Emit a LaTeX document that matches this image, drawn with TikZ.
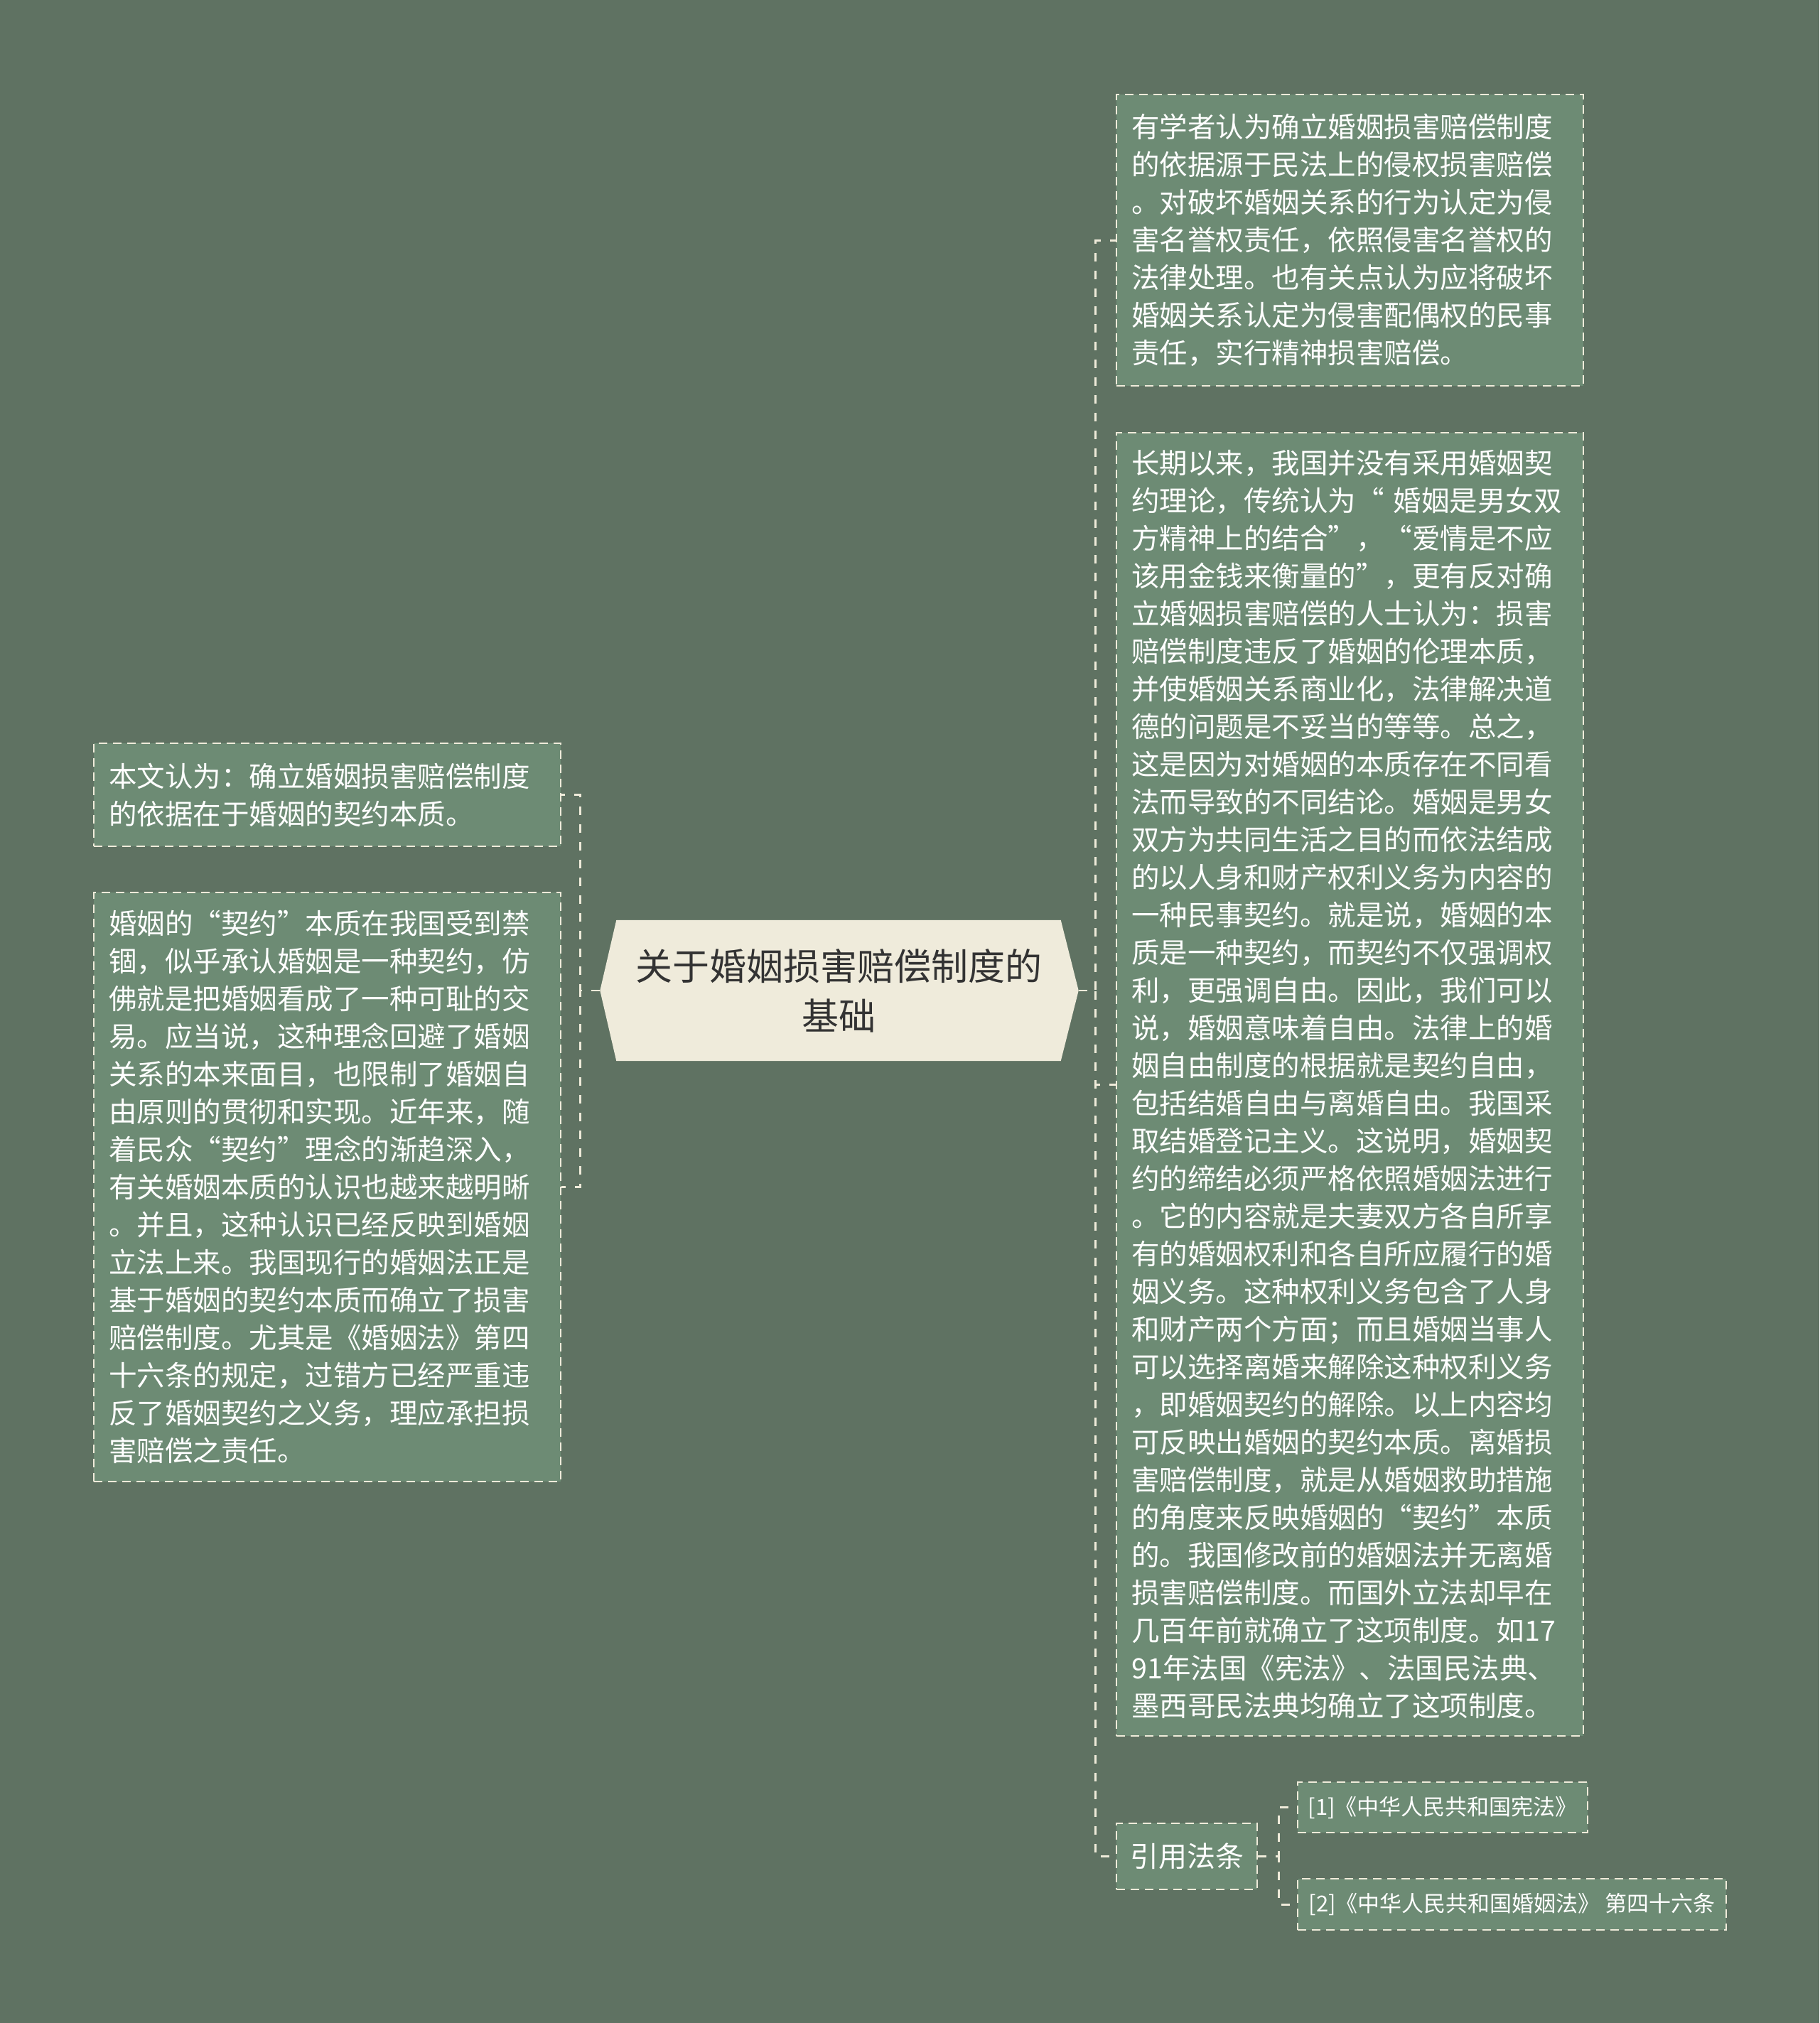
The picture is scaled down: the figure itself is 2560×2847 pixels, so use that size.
\documentclass[tikz,border=0pt]{standalone}
\usepackage{fontspec}
\setmainfont{Noto Sans CJK SC}
\usetikzlibrary{calc}
\definecolor{bgc}{HTML}{5F7262}
\definecolor{boxc}{HTML}{6D8B74}
\definecolor{linec}{HTML}{EFEBDA}
\definecolor{ctrc}{HTML}{EFEBDB}
\definecolor{ctrtext}{HTML}{333333}
\pgfdeclarelayer{back}
\pgfdeclarelayer{mid}
\pgfsetlayers{back,mid,main}
\begin{document}
\begin{tikzpicture}[x=1pt,y=-1pt,
  txtbox/.style={draw=linec, fill=boxc, line width=2.4pt, dash pattern=on 12pt off 8pt,
    text=white, anchor=north west, inner xsep=21pt, inner ysep=0pt, align=left,
    text width=615pt, font=\fontsize{39.5}{53}\selectfont},
  smallbox/.style={draw=linec, fill=boxc, line width=2.4pt, dash pattern=on 12pt off 8pt,
    text=white, anchor=north west, inner sep=0pt},
  ctr/.style={text=ctrtext, align=center, inner sep=0pt, minimum width=625pt,
    minimum height=198pt, font=\fontsize{52}{70}\selectfont},
  conn/.style={draw=linec, line width=2.6pt, dash pattern=on 12pt off 13pt}]
\useasboundingbox (0,0) rectangle (2560,2847);
\begin{pgfonlayer}{back}
\fill[bgc] (0,0) rectangle (2560,2847);
\end{pgfonlayer}

% center
\node[ctr] (c) at (1180,1394) {关于婚姻损害赔偿制度的\\基础};
\coordinate (cE) at ($(c.east)+(25,0)$);
\coordinate (cW) at ($(c.west)+(-23,0)$);
\begin{pgfonlayer}{mid}
\fill[ctrc] (c.north west) -- (c.north east) -- (cE) -- (c.south east)
  -- (c.south west) -- (cW) -- cycle;
\end{pgfonlayer}

% right boxes
\node[txtbox, minimum height=410pt] (r1) at (1570,132) {有学者认为确立婚姻损害赔偿制度\\
的依据源于民法上的侵权损害赔偿\\
。对破坏婚姻关系的行为认定为侵\\
害名誉权责任，依照侵害名誉权的\\
法律处理。也有关点认为应将破坏\\
婚姻关系认定为侵害配偶权的民事\\
责任，实行精神损害赔偿。};

\node[txtbox, minimum height=1834pt] (r2) at (1570,608) {长期以来，我国并没有采用婚姻契\\
约理论，传统认为“ 婚姻是男女双\\
方精神上的结合”，“爱情是不应\\
该用金钱来衡量的”，更有反对确\\
立婚姻损害赔偿的人士认为：损害\\
赔偿制度违反了婚姻的伦理本质，\\
并使婚姻关系商业化，法律解决道\\
德的问题是不妥当的等等。总之，\\
这是因为对婚姻的本质存在不同看\\
法而导致的不同结论。婚姻是男女\\
双方为共同生活之目的而依法结成\\
的以人身和财产权利义务为内容的\\
一种民事契约。就是说，婚姻的本\\
质是一种契约，而契约不仅强调权\\
利，更强调自由。因此，我们可以\\
说，婚姻意味着自由。法律上的婚\\
姻自由制度的根据就是契约自由，\\
包括结婚自由与离婚自由。我国采\\
取结婚登记主义。这说明，婚姻契\\
约的缔结必须严格依照婚姻法进行\\
。它的内容就是夫妻双方各自所享\\
有的婚姻权利和各自所应履行的婚\\
姻义务。这种权利义务包含了人身\\
和财产两个方面；而且婚姻当事人\\
可以选择离婚来解除这种权利义务\\
，即婚姻契约的解除。以上内容均\\
可反映出婚姻的契约本质。离婚损\\
害赔偿制度，就是从婚姻救助措施\\
的角度来反映婚姻的“契约”本质\\
的。我国修改前的婚姻法并无离婚\\
损害赔偿制度。而国外立法却早在\\
几百年前就确立了这项制度。如17\\
91年法国《宪法》、法国民法典、\\
墨西哥民法典均确立了这项制度。};

\node[smallbox, minimum width=198pt, minimum height=93pt,
  font=\fontsize{40}{50}\selectfont] (ref) at (1570,2565) {引用法条};
\node[smallbox, minimum width=408pt, minimum height=71pt,
  font=\fontsize{31}{40}\selectfont] (ref1) at (1825,2507) {[1]《中华人民共和国宪法》};
\node[smallbox, minimum width=603pt, minimum height=72pt,
  font=\fontsize{31}{40}\selectfont] (ref2) at (1825,2643) {[2]《中华人民共和国婚姻法》 第四十六条};

% left boxes
\node[txtbox, minimum height=145pt] (l1) at (131,1045) {本文认为：确立婚姻损害赔偿制度\\
的依据在于婚姻的契约本质。};

\node[txtbox, minimum height=829pt] (l2) at (131,1255) {婚姻的“契约”本质在我国受到禁\\
锢，似乎承认婚姻是一种契约，仿\\
佛就是把婚姻看成了一种可耻的交\\
易。应当说，这种理念回避了婚姻\\
关系的本来面目，也限制了婚姻自\\
由原则的贯彻和实现。近年来，随\\
着民众“契约”理念的渐趋深入，\\
有关婚姻本质的认识也越来越明晰\\
。并且，这种认识已经反映到婚姻\\
立法上来。我国现行的婚姻法正是\\
基于婚姻的契约本质而确立了损害\\
赔偿制度。尤其是《婚姻法》第四\\
十六条的规定，过错方已经严重违\\
反了婚姻契约之义务，理应承担损\\
害赔偿之责任。};

% connectors
\draw[conn] (cE) -- ++(24,0) |- (r1.west);
\draw[conn] (cE) -- ++(24,0) |- (r2.west);
\draw[conn] (cE) -- ++(24,0) |- (ref.west);
\draw[conn] (cW) -- ++(-28,0) |- (l1.east);
\draw[conn] (cW) -- ++(-28,0) |- (l2.east);
\draw[conn] (ref.east) -- ++(29,0) |- (ref1.west);
\draw[conn] (ref.east) -- ++(29,0) |- (ref2.west);
\end{tikzpicture}
\end{document}
